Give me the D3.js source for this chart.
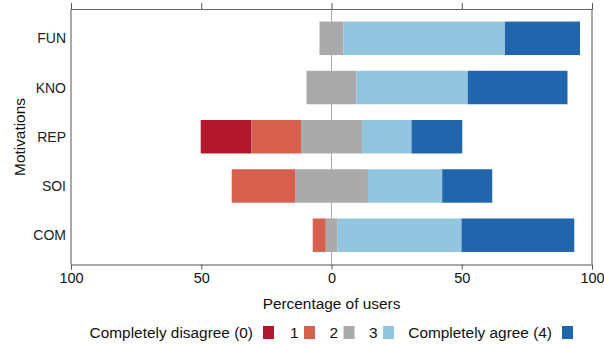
<!DOCTYPE html>
<html><head><meta charset="utf-8">
<script src="https://cdn.jsdelivr.net/npm/d3@7"></script>
<style>
html,body{margin:0;padding:0;background:#fff;}
svg{display:block;font-family:"Liberation Sans",Arial,sans-serif;}
</style></head>
<body><svg id="chart" width="604" height="345"></svg>
<script>
const categories = ["FUN", "KNO", "REP", "SOI", "COM"];
const levelNames = ["Completely disagree (0)", "1", "2", "3", "Completely agree (4)"];
const level0 = [0, 0, 19.5, 0, 0];
const level1 = [0, 0, 19, 24.3, 5];
const level2 = [9.2, 19.2, 23.4, 28, 4.4];
const level3 = [62, 42.7, 19, 28.5, 47.7];
const level4 = [28.8, 38.3, 19.5, 19.2, 43.3];
const tickValues = [-100, -50, 0, 50, 100];
const colors = ["#b2182b", "#d6604d", "#aaaaaa", "#92c5de", "#2166ac"];

(function () {
const svg = d3.select("#chart");
const pLeft = 71, pRight = 592, pTop = 9, pBottom = 264.5;
const x = d3.scaleLinear().domain([-100, 100]).range([pLeft, pRight]);
const y = d3.scaleBand().domain(categories).range([pTop, pBottom]).paddingInner(0.32).paddingOuter(0.255);

const levels = [level0, level1, level2, level3, level4];
const segs = [];
categories.forEach((c, i) => {
  let start = -(level0[i] + level1[i] + level2[i] / 2);
  levels.forEach((arr, k) => {
    const v = arr[i];
    if (v > 0) segs.push({cat: c, k, x0: start, x1: start + v});
    start += v;
  });
});

svg.append("line").attr("x1", x(0)).attr("x2", x(0)).attr("y1", pTop).attr("y2", pBottom)
  .attr("stroke", "#aaaaaa").attr("stroke-width", 1);

svg.append("g").selectAll("rect").data(segs).join("rect")
  .attr("x", d => x(d.x0)).attr("width", d => x(d.x1) - x(d.x0))
  .attr("y", d => y(d.cat)).attr("height", y.bandwidth())
  .attr("fill", d => colors[d.k]);

const frame = svg.append("g").attr("stroke", "#555").attr("stroke-width", 1).attr("fill", "none");
frame.append("line").attr("x1", pLeft).attr("x2", pLeft).attr("y1", pTop).attr("y2", pBottom);
frame.append("line").attr("x1", pRight).attr("x2", pRight).attr("y1", pTop).attr("y2", pBottom);

const xb = d3.axisBottom(x).tickValues(tickValues).tickFormat(d => Math.abs(d)).tickSize(5).tickPadding(3);
const gb = svg.append("g").attr("transform", `translate(0,${pBottom})`).call(xb);
gb.select(".domain").attr("stroke", "#555");
gb.selectAll(".tick line").attr("stroke", "#555");
gb.selectAll("text").attr("font-size", 14.5).attr("fill", "#111").attr("font-family", "Liberation Sans, Arial, sans-serif");

const xt = d3.axisTop(x).tickValues(tickValues).tickFormat("").tickSize(6);
const gt = svg.append("g").attr("transform", `translate(0,${pTop})`).call(xt);
gt.select(".domain").attr("stroke", "#666");
gt.selectAll(".tick line").attr("stroke", "#555");

svg.append("g").selectAll("text").data(categories).join("text")
  .attr("x", 66).attr("y", d => y(d) + y.bandwidth() / 2 + 5)
  .attr("text-anchor", "end").attr("font-size", 14).attr("fill", "#222").text(d => d);

svg.append("text").attr("transform", "translate(25,137) rotate(-90)")
  .attr("text-anchor", "middle").attr("font-size", 15.4).attr("fill", "#111").text("Motivations");

svg.append("text").attr("x", (pLeft + pRight) / 2).attr("y", 308.5)
  .attr("text-anchor", "middle").attr("font-size", 15.4).attr("fill", "#111").text("Percentage of users");

const swatchX = [263, 304, 343.5, 383, 562];
const lg = svg.append("g");
levelNames.forEach((n, k) => {
  lg.append("rect").attr("x", swatchX[k]).attr("y", 326).attr("width", 11).attr("height", 13).attr("fill", colors[k]);
  lg.append("text").attr("x", swatchX[k] - (n.length > 2 ? 10 : 5.5)).attr("y", 337.5)
    .attr("text-anchor", "end").attr("font-size", 15.4).attr("fill", "#111").text(n);
});
})();
</script></body></html>
